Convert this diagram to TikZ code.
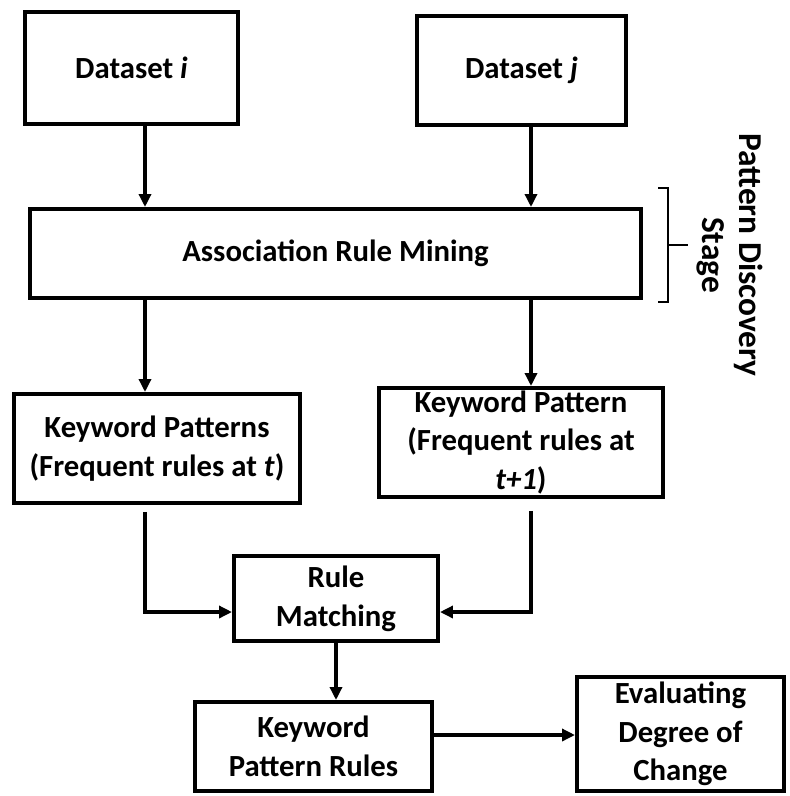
\documentclass[tikz,border=0pt]{standalone}
\usepackage{fontspec}
\setmainfont{Carlito}
\usetikzlibrary{arrows.meta}

\tikzset{
	block/.style={draw, line width=0.08cm, inner sep=0pt, align=center,
		font=\fontsize{17.5pt}{22pt}\selectfont\bfseries},
	link/.style={line width=0.065cm, -{Triangle[length=0.26cm,width=0.24cm]}},
}

\begin{document}
\begin{tikzpicture}[x=0.02cm, y=-0.02cm]
			%%%%% START %%%%%
			\useasboundingbox (0, 0) rectangle (790, 796);
			
			\node[block, minimum width=4.26cm, minimum height=2.24cm] (dsi) at (131.5, 68) {Dataset \textit{i}};
			\node[block, minimum width=4.18cm, minimum height=2.18cm] (dsj) at (521.5, 70.5) {Dataset \textit{j}};
			
			\node[block, minimum width=12.22cm, minimum height=1.78cm] (arm) at (335.5, 253.5) {Association Rule Mining};
			
			\node[block, minimum width=5.72cm, minimum height=2.18cm] (kpt) at (157, 448.5) {Keyword Patterns\\(Frequent rules at \textit{t})};
			\node[block, minimum width=5.68cm, minimum height=2.18cm] (kpt1) at (521, 442.5) {Keyword Pattern\\(Frequent rules at\\\textit{t+1})};
			
			\node[block, minimum width=4.08cm, minimum height=1.70cm] (rm) at (336, 598.5) {Rule\\Matching};
			\node[block, minimum width=4.74cm, minimum height=1.78cm] (kpr) at (313.5, 746.5) {Keyword\\Pattern Rules};
			\node[block, minimum width=4.14cm, minimum height=2.28cm] (edc) at (680.5, 734) {Evaluating\\Degree of\\Change};
			
			% columns of the arrows
			\coordinate (lft) at (145, 0);
			\coordinate (rgt) at (531, 0);
			\coordinate (mrg) at (0, 612);
			
			\draw[link] (dsi.south -| lft) -- (arm.north -| lft);
			\draw[link] (dsj.south -| rgt) -- (arm.north -| rgt);
			\draw[link] (arm.south -| lft) -- (kpt.north -| lft);
			\draw[link] (arm.south -| rgt) -- (kpt1.north -| rgt);
			
			\draw[link, shorten <=0.14cm] (kpt.south -| lft) |- (rm.west |- mrg);
			\draw[link, shorten <=0.24cm] (kpt1.south -| rgt) |- (rm.east |- mrg);
			\draw[link] (rm.south) -- (kpr.north -| rm.south);
			\draw[link] (kpr.east |- 0, 735) -- (edc.west |- 0, 735);
			
			% bracket of the stage
			\draw[line width=0.04cm] (658, 188) -| (668, 302) -- (658, 302);
			\draw[line width=0.04cm] (668, 245) -- (688, 245);
			\node[rotate=-90, align=center, font=\fontsize{19pt}{21pt}\selectfont\bfseries] (stage) at (730, 255) {Pattern Discovery\\Stage};
			
			%%%%% END %%%%%
\end{tikzpicture}
\end{document}
